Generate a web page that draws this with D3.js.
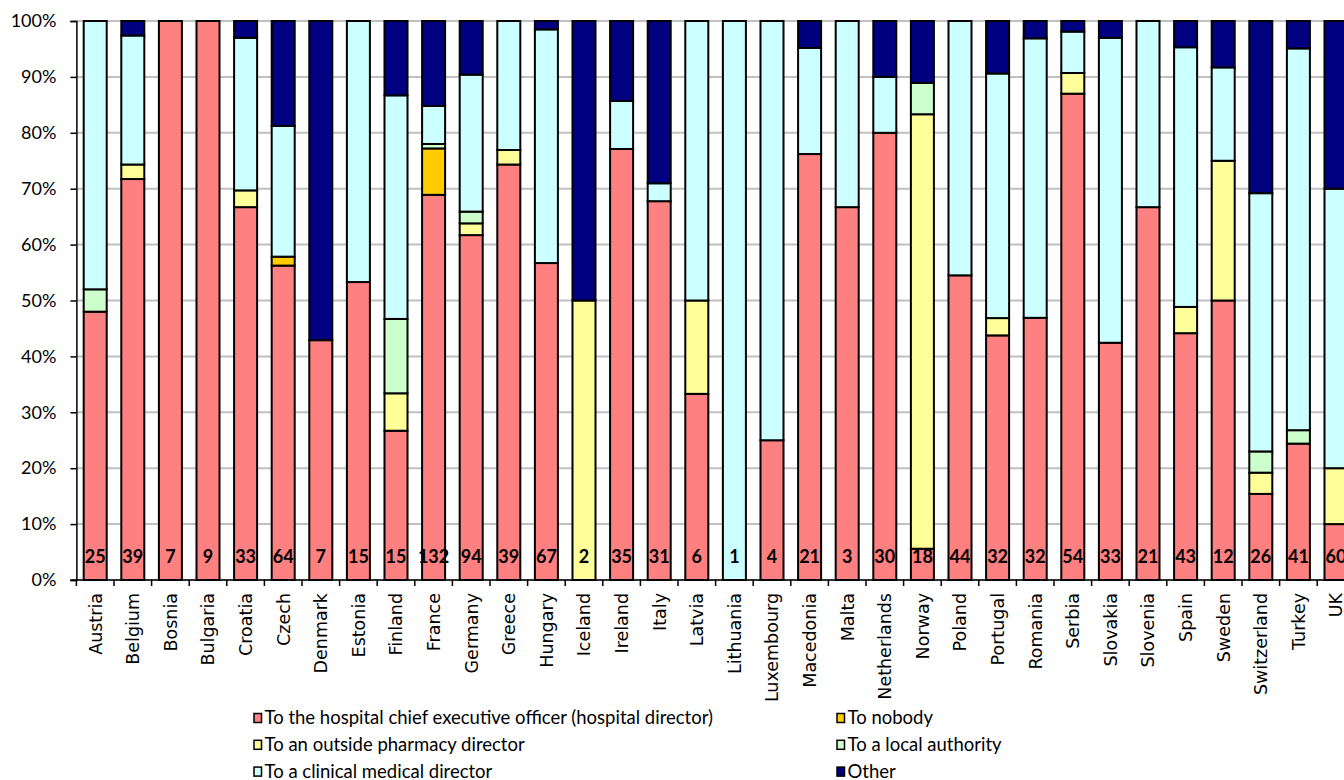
<!DOCTYPE html>
<html>
<head>
<meta charset="utf-8">
<script src="https://cdn.jsdelivr.net/npm/d3@7"></script>
<style>
  body { margin: 0; background: #fff; overflow: hidden; }
  svg { display: block; }
</style>
</head>
<body>
<svg id="chart" width="1344" height="780"></svg>
<script>
// countries along the x axis and the number of answers per country
const countries = ["Austria","Belgium","Bosnia","Bulgaria","Croatia","Czech","Denmark","Estonia","Finland","France","Germany","Greece","Hungary","Iceland","Ireland","Italy","Latvia","Lithuania","Luxembourg","Macedonia","Malta","Netherlands","Norway","Poland","Portugal","Romania","Serbia","Slovakia","Slovenia","Spain","Sweden","Switzerland","Turkey","UK"];
const counts = [25,39,7,9,33,64,7,15,15,132,94,39,67,2,35,31,6,1,4,21,3,30,18,44,32,32,54,33,21,43,12,26,41,60];

// share of answers (%) per series, same order as countries
const ceo      = [48,71.8,100,100,66.7,56.3,42.9,53.3,26.7,68.9,61.7,74.4,56.7,0,77.1,67.7,33.3,0,25,76.2,66.7,80,5.6,54.5,43.8,46.9,87.0,42.4,66.7,44.2,50,15.4,24.4,10];
const nobody   = [0,0,0,0,0,1.6,0,0,0,8.3,0,0,0,0,0,0,0,0,0,0,0,0,0,0,0,0,0,0,0,0,0,0,0,0];
const outside  = [0,2.6,0,0,3.0,0,0,0,6.7,0,2.1,2.6,0,50,0,0,16.7,0,0,0,0,0,77.8,0,3.1,0,3.7,0,0,4.7,25,3.8,0,10];
const local    = [4,0,0,0,0,0,0,0,13.3,0.8,2.1,0,0,0,0,0,0,0,0,0,0,0,5.6,0,0,0,0,0,0,0,0,3.8,2.4,0];
const clinical = [48,23.1,0,0,27.3,23.4,0,46.7,40,6.8,24.5,23.1,41.8,0,8.6,3.2,50,100,75,19.0,33.3,10,0,45.5,43.8,50,7.4,54.5,33.3,46.5,16.7,46.2,68.3,50];
const other    = [0,2.6,0,0,3.0,18.8,57.1,0,13.3,15.2,9.6,0,1.5,50,14.3,29.0,0,0,0,4.8,0,10,11.1,0,9.4,3.1,1.9,3.0,0,4.7,8.3,30.8,4.9,30];

const seriesKeys = ["ceo","nobody","outside","local","clinical","other"];
const seriesNames = {
    ceo: "To the hospital chief executive officer (hospital director)",
    nobody: "To nobody",
    outside: "To an outside pharmacy director",
    local: "To a local authority",
    clinical: "To a clinical medical director",
    other: "Other"
};
const seriesColors = {
    ceo: "#FF8080", nobody: "#FFCC00", outside: "#FFFF99",
    local: "#CCFFCC", clinical: "#CCFFFF", other: "#000080"
};
// legend is filled row by row, two columns
const legendOrder = ["ceo","nobody","outside","local","clinical","other"];

// build rows for d3.stack
const rows = countries.map((c, i) => ({
    country: c, ceo: ceo[i], nobody: nobody[i], outside: outside[i],
    local: local[i], clinical: clinical[i], other: other[i]
}));

const svg = d3.select("#chart");

// plot area - runs past the right edge of the page like the original
const step = 37.6;
const plotLeft = 76.4, plotTop = 21, plotBottom = 580;
const x = d3.scaleBand()
    .domain(countries)
    .range([plotLeft, plotLeft + step * countries.length])
    .paddingInner(0.388)
    .paddingOuter(0.194);
const y = d3.scaleLinear().domain([0, 1]).range([plotBottom, plotTop]);

// gridlines
svg.append("g")
   .selectAll("line")
   .data(y.ticks(10))
   .enter().append("line")
   .attr("x1", plotLeft).attr("x2", 1344)
   .attr("y1", d => y(d)).attr("y2", d => y(d))
   .attr("stroke", "#C0C0C0")
   .attr("stroke-width", 2);

// stacked bars (100%)
const stacked = d3.stack().keys(seriesKeys).offset(d3.stackOffsetExpand)(rows);

svg.append("g")
   .selectAll("g")
   .data(stacked)
   .enter().append("g")
   .attr("fill", d => seriesColors[d.key])
   .selectAll("rect")
   .data(d => d.filter(s => s[1] - s[0] > 0))
   .enter().append("rect")
   .attr("x", d => x(d.data.country))
   .attr("width", x.bandwidth())
   .attr("y", d => y(d[1]))
   .attr("height", d => y(d[0]) - y(d[1]))
   .attr("stroke", "#000")
   .attr("stroke-width", 2);

// y axis
const yAxis = svg.append("g")
   .attr("transform", `translate(${plotLeft},0)`)
   .call(d3.axisLeft(y).ticks(10).tickFormat(d3.format(".0%")).tickSize(6).tickPadding(14));
yAxis.select(".domain").attr("stroke", "#000").attr("stroke-width", 1.5);
yAxis.selectAll(".tick line").attr("stroke", "#000").attr("stroke-width", 1.5);
yAxis.selectAll("text")
     .attr("font-family", "Lato, sans-serif")
     .attr("font-size", 18)
     .attr("fill", "#000");

// x axis line and boundary ticks
const bounds = d3.range(countries.length + 1).map(i => plotLeft + i * step);
const xg = svg.append("g");
xg.append("line")
  .attr("x1", plotLeft - 6).attr("x2", 1344)
  .attr("y1", plotBottom).attr("y2", plotBottom)
  .attr("stroke", "#000").attr("stroke-width", 1.5);
xg.selectAll("line.tk")
  .data(bounds)
  .enter().append("line")
  .attr("class", "tk")
  .attr("x1", d => d).attr("x2", d => d)
  .attr("y1", plotBottom).attr("y2", plotBottom + 6)
  .attr("stroke", "#000").attr("stroke-width", 1.5);

// country labels, rotated
xg.selectAll("text")
  .data(countries)
  .enter().append("text")
  .attr("transform", d => `translate(${x(d) + x.bandwidth() / 2 + 6.3},593) rotate(-90)`)
  .attr("text-anchor", "end")
  .attr("font-family", "DejaVu Sans, sans-serif")
  .attr("font-size", 17.5)
  .attr("fill", "#000")
  .text(d => d);

// number of answers inside the bars
svg.append("g")
   .selectAll("text")
   .data(countries)
   .enter().append("text")
   .attr("x", d => x(d) + x.bandwidth() / 2)
   .attr("y", 562.5)
   .attr("text-anchor", "middle")
   .attr("font-family", "Lato, sans-serif")
   .attr("font-weight", "bold")
   .attr("font-size", 18)
   .attr("fill", "#000")
   .text((d, i) => counts[i]);

// legend
const legend = svg.append("g");
const legItems = legend.selectAll("g")
   .data(legendOrder)
   .enter().append("g")
   .attr("transform", (d, i) => `translate(${i % 2 === 0 ? 254 : 837},${718 + Math.floor(i / 2) * 26.8})`);
legItems.append("rect")
   .attr("x", 0).attr("y", -4.5)
   .attr("width", 7.5).attr("height", 9)
   .attr("fill", d => seriesColors[d])
   .attr("stroke", "#000").attr("stroke-width", 1.5);
legItems.append("text")
   .attr("x", 10.5).attr("y", 6)
   .attr("font-family", "Lato, sans-serif")
   .attr("font-size", 18.5)
   .attr("fill", "#000")
   .text(d => seriesNames[d]);
</script>
</body>
</html>
